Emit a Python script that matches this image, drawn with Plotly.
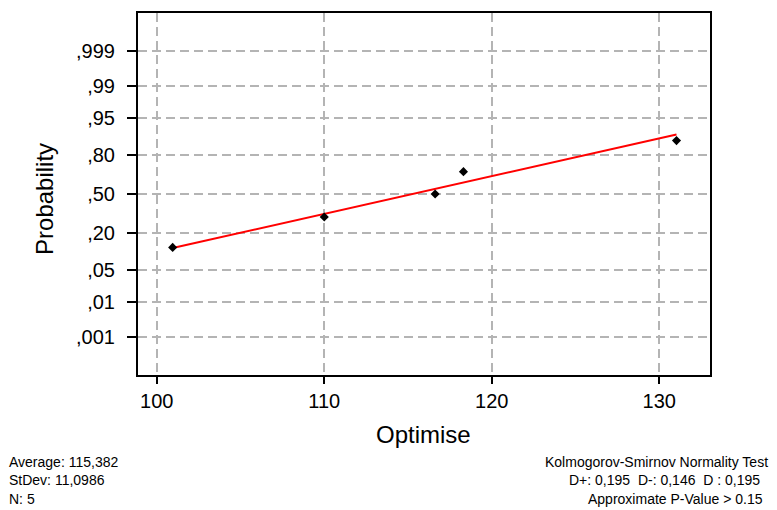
from statistics import NormalDist
import plotly.graph_objects as go

# ---- data ----
optimise_values = [100.95, 110.0, 116.62, 118.31, 131.03]
plot_probabilities = [0.125, 0.31, 0.50, 0.685, 0.875]
fit_location = 115.26
fit_scale = 12.28
prob_tick_values = [0.001, 0.01, 0.05, 0.20, 0.50, 0.80, 0.95, 0.99, 0.999]
prob_tick_labels = [",001", ",01", ",05", ",20", ",50", ",80", ",95", ",99", ",999"]
x_tick_values = [100, 110, 120, 130]
stats_left = ["Average: 115,382", "StDev: 11,0986", "N: 5"]
stats_right = ["Kolmogorov-Smirnov Normality Test",
               "D+: 0,195  D-: 0,146  D : 0,195",
               "Approximate P-Value &gt; 0.15"]

nd = NormalDist()
z_points = [nd.inv_cdf(p) for p in plot_probabilities]
z_ticks = [nd.inv_cdf(p) for p in prob_tick_values]
line_x = [min(optimise_values), max(optimise_values)]
line_z = [(v - fit_location) / fit_scale for v in line_x]

FONT = "Liberation Sans, Arial, sans-serif"
W, H = 777, 510
L, R, T, B = 138, 67, 11, 135
pw, ph = W - L - R, H - T - B

def px(x):
    return (x - L) / pw

def py(y):
    return (H - B - y) / ph

fig = go.Figure()
fig.add_trace(go.Scatter(x=line_x, y=line_z, mode="lines",
                         line=dict(color="#ff0000", width=2), hoverinfo="skip"))
fig.add_trace(go.Scatter(x=optimise_values, y=z_points, mode="markers",
                         marker=dict(symbol="diamond", size=7, color="black")))

grid = dict(showgrid=True, gridcolor="#b4b4b4", gridwidth=1.8, griddash="9px,5px",
            zeroline=False, showline=True, linecolor="black", linewidth=2, mirror=True,
            ticks="outside", ticklen=7, tickwidth=1.5, tickcolor="black",
            tickfont=dict(family=FONT, size=20, color="black"))

fig.update_xaxes(range=[98.88, 133.03], tickvals=x_tick_values,
                 ticktext=[str(v) for v in x_tick_values], **grid)
fig.update_yaxes(range=[-3.9, 3.9], tickvals=z_ticks, ticktext=prob_tick_labels,
                 ticklabelstandoff=8, **{**grid, "ticklen": 9})

ann = []
ann.append(dict(text="Optimise", x=px(423), y=py(435), xref="paper", yref="paper",
                showarrow=False, font=dict(family=FONT, size=24, color="black"),
                xanchor="center", yanchor="middle"))
ann.append(dict(text="Probability", x=px(45), y=py(198), xref="paper", yref="paper",
                showarrow=False, textangle=-90, font=dict(family=FONT, size=24, color="black"),
                xanchor="center", yanchor="middle"))
for i, t in enumerate(stats_left):
    ann.append(dict(text=t, x=px(7), y=py(462 + 19 * i), xref="paper", yref="paper",
                    showarrow=False, font=dict(family=FONT, size=14, color="black"),
                    xanchor="left", yanchor="middle"))
right_edges = [770, 762, 765]
for i, t in enumerate(stats_right):
    ann.append(dict(text=t, x=px(right_edges[i]), y=py(462 + 19 * i), xref="paper", yref="paper",
                    showarrow=False, font=dict(family=FONT, size=14, color="black"),
                    xanchor="right", yanchor="middle"))

fig.update_layout(width=W, height=H, margin=dict(l=L, r=R, t=T, b=B),
                  paper_bgcolor="white", plot_bgcolor="white", showlegend=False,
                  annotations=ann, font=dict(family=FONT, color="black"))

fig.write_html("out.html", config={"displayModeBar": False})

# remove the browser's default page margin so the figure sits at the top-left corner
with open("out.html", "r", encoding="utf-8") as f:
    html = f.read()
html = html.replace("<head>", "<head><style>html,body{margin:0;padding:0;overflow:hidden;}</style>", 1)
with open("out.html", "w", encoding="utf-8") as f:
    f.write(html)
